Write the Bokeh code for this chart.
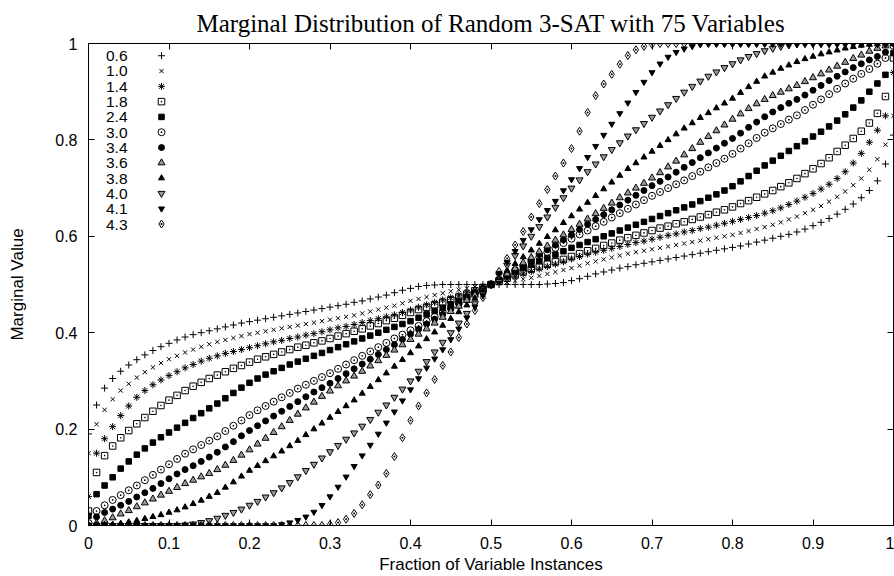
from bokeh.plotting import figure
from bokeh.models import Range1d, LinearAxis, FixedTicker, CustomJSTickFormatter
from bokeh.core.properties import value
from bokeh.embed import file_html
from bokeh.resources import INLINE

TITLE = "Marginal Distribution of Random 3-SAT with 75 Variables"
X_LABEL = "Fraction of Variable Instances"
Y_LABEL = "Marginal Value"
X_TICKS = [0, 0.1, 0.2, 0.3, 0.4, 0.5, 0.6, 0.7, 0.8, 0.9, 1]
Y_TICKS = [0, 0.2, 0.4, 0.6, 0.8, 1]

# fraction of variable instances (x positions of the sorted marginals)
FRACTION = [round(i * 0.01, 2) for i in range(101)]

S06 = [0.19, 0.25, 0.285, 0.305, 0.32, 0.333, 0.344, 0.354, 0.363, 0.371,
       0.378, 0.385, 0.391, 0.396, 0.40, 0.404, 0.408, 0.412, 0.416, 0.42,
       0.423, 0.426, 0.429, 0.432, 0.435, 0.438, 0.441, 0.444, 0.447, 0.45,
       0.453, 0.456, 0.459, 0.463, 0.466, 0.47, 0.474, 0.478, 0.483, 0.488,
       0.492, 0.496, 0.498, 0.499, 0.5, 0.5, 0.5, 0.5, 0.5, 0.5,
       0.5,
       0.5, 0.5, 0.5, 0.5, 0.5, 0.5, 0.501, 0.502, 0.504, 0.508,
       0.512, 0.517, 0.522, 0.526, 0.53, 0.534, 0.537, 0.541, 0.544, 0.547,
       0.55, 0.553, 0.556, 0.559, 0.562, 0.565, 0.568, 0.571, 0.574, 0.577,
       0.58, 0.584, 0.588, 0.592, 0.596, 0.60, 0.604, 0.609, 0.615, 0.622,
       0.629, 0.637, 0.646, 0.656, 0.667, 0.68, 0.695, 0.715, 0.75, 0.81]

S10 = [0.15, 0.21, 0.24, 0.262, 0.28, 0.294, 0.307, 0.318, 0.328, 0.337,
       0.345, 0.352, 0.359, 0.365, 0.371, 0.376, 0.381, 0.385, 0.389, 0.393,
       0.397, 0.40, 0.403, 0.406, 0.409, 0.412, 0.415, 0.418, 0.421, 0.424,
       0.427, 0.43, 0.433, 0.436, 0.44, 0.444, 0.448, 0.452, 0.456, 0.461,
       0.466, 0.47, 0.474, 0.478, 0.482, 0.486, 0.489, 0.492, 0.495, 0.498,
       0.5,
       0.502, 0.505, 0.508, 0.511, 0.514, 0.518, 0.522, 0.526, 0.53, 0.534,
       0.539, 0.544, 0.548, 0.552, 0.556, 0.56, 0.564, 0.567, 0.57, 0.573,
       0.576, 0.579, 0.582, 0.585, 0.588, 0.591, 0.594, 0.597, 0.60, 0.603,
       0.607, 0.611, 0.615, 0.619, 0.624, 0.629, 0.635, 0.641, 0.648, 0.655,
       0.663, 0.672, 0.682, 0.693, 0.706, 0.72, 0.738, 0.76, 0.79, 0.85]

S14 = [0.06, 0.15, 0.18, 0.205, 0.228, 0.248, 0.266, 0.28, 0.292, 0.302,
       0.311, 0.319, 0.327, 0.334, 0.341, 0.347, 0.352, 0.357, 0.361, 0.365,
       0.369, 0.373, 0.377, 0.381, 0.384, 0.388, 0.391, 0.395, 0.398, 0.402,
       0.406, 0.41, 0.413, 0.417, 0.421, 0.425, 0.429, 0.433, 0.437, 0.442,
       0.447, 0.453, 0.458, 0.463, 0.468, 0.473, 0.478, 0.484, 0.489, 0.495,
       0.5,
       0.505, 0.511, 0.516, 0.522, 0.527, 0.532, 0.537, 0.542, 0.547, 0.553,
       0.558, 0.563, 0.567, 0.571, 0.575, 0.579, 0.583, 0.587, 0.59, 0.594,
       0.598, 0.602, 0.605, 0.609, 0.612, 0.616, 0.619, 0.623, 0.627, 0.631,
       0.635, 0.639, 0.643, 0.648, 0.653, 0.659, 0.666, 0.673, 0.681, 0.689,
       0.698, 0.708, 0.72, 0.734, 0.752, 0.772, 0.795, 0.82, 0.85, 0.94]

S18 = [0.03, 0.11, 0.145, 0.165, 0.182, 0.197, 0.211, 0.224, 0.237, 0.249,
       0.26, 0.27, 0.28, 0.289, 0.297, 0.305, 0.312, 0.319, 0.326, 0.332,
       0.339, 0.345, 0.35, 0.355, 0.36, 0.365, 0.37, 0.374, 0.379, 0.383,
       0.388, 0.393, 0.398, 0.403, 0.408, 0.414, 0.419, 0.425, 0.43, 0.436,
       0.442, 0.448, 0.453, 0.458, 0.463, 0.468, 0.474, 0.48, 0.487, 0.493,
       0.5,
       0.507, 0.513, 0.52, 0.526, 0.532, 0.537, 0.542, 0.547, 0.552, 0.558,
       0.564, 0.57, 0.575, 0.581, 0.586, 0.592, 0.597, 0.602, 0.607, 0.612,
       0.617, 0.621, 0.626, 0.63, 0.635, 0.64, 0.645, 0.65, 0.655, 0.661,
       0.668, 0.674, 0.681, 0.688, 0.695, 0.703, 0.711, 0.72, 0.73, 0.74,
       0.751, 0.763, 0.776, 0.789, 0.803, 0.818, 0.835, 0.855, 0.89, 0.97]

S24 = [0.02, 0.065, 0.083, 0.10, 0.118, 0.133, 0.147, 0.16, 0.172, 0.183,
       0.193, 0.203, 0.213, 0.223, 0.233, 0.243, 0.253, 0.264, 0.275, 0.286,
       0.296, 0.305, 0.313, 0.32, 0.327, 0.334, 0.34, 0.346, 0.352, 0.358,
       0.364, 0.37, 0.376, 0.382, 0.388, 0.394, 0.40, 0.406, 0.412, 0.418,
       0.424, 0.431, 0.438, 0.445, 0.452, 0.459, 0.466, 0.474, 0.482, 0.491,
       0.5,
       0.509, 0.518, 0.526, 0.534, 0.541, 0.548, 0.555, 0.562, 0.569, 0.576,
       0.582, 0.588, 0.594, 0.60, 0.606, 0.612, 0.618, 0.624, 0.63, 0.636,
       0.642, 0.648, 0.654, 0.66, 0.666, 0.673, 0.68, 0.687, 0.695, 0.704,
       0.714, 0.725, 0.736, 0.747, 0.757, 0.767, 0.777, 0.787, 0.797, 0.807,
       0.817, 0.828, 0.84, 0.853, 0.867, 0.882, 0.90, 0.917, 0.935, 0.98]

S30 = [0.005, 0.03, 0.042, 0.053, 0.063, 0.073, 0.083, 0.094, 0.105, 0.116,
       0.127, 0.138, 0.149, 0.158, 0.167, 0.176, 0.185, 0.196, 0.207, 0.218,
       0.229, 0.239, 0.248, 0.257, 0.266, 0.275, 0.284, 0.292, 0.30, 0.308,
       0.316, 0.325, 0.334, 0.343, 0.352, 0.361, 0.37, 0.379, 0.388, 0.396,
       0.405, 0.414, 0.424, 0.433, 0.443, 0.452, 0.462, 0.471, 0.481, 0.49,
       0.5,
       0.51, 0.519, 0.529, 0.538, 0.548, 0.557, 0.567, 0.576, 0.586, 0.595,
       0.604, 0.612, 0.621, 0.63, 0.639, 0.648, 0.657, 0.666, 0.675, 0.684,
       0.692, 0.70, 0.708, 0.716, 0.725, 0.734, 0.743, 0.752, 0.761, 0.771,
       0.782, 0.793, 0.804, 0.815, 0.824, 0.833, 0.842, 0.851, 0.862, 0.873,
       0.884, 0.895, 0.906, 0.917, 0.927, 0.937, 0.947, 0.958, 0.97, 0.995]

S34 = [0.0, 0.018, 0.027, 0.034, 0.042, 0.05, 0.059, 0.068, 0.077, 0.087,
       0.097, 0.107, 0.116, 0.124, 0.133, 0.142, 0.152, 0.163, 0.174, 0.186,
       0.197, 0.207, 0.217, 0.227, 0.237, 0.247, 0.257, 0.267, 0.277, 0.286,
       0.295, 0.305, 0.315, 0.325, 0.335, 0.345, 0.355, 0.365, 0.375, 0.386,
       0.397, 0.407, 0.418, 0.428, 0.438, 0.449, 0.459, 0.469, 0.479, 0.49,
       0.5,
       0.51, 0.521, 0.531, 0.541, 0.551, 0.562, 0.572, 0.582, 0.593, 0.603,
       0.614, 0.625, 0.635, 0.645, 0.655, 0.665, 0.675, 0.685, 0.695, 0.705,
       0.714, 0.723, 0.733, 0.743, 0.753, 0.763, 0.773, 0.783, 0.793, 0.803,
       0.814, 0.826, 0.837, 0.848, 0.858, 0.867, 0.876, 0.884, 0.893, 0.903,
       0.913, 0.923, 0.932, 0.941, 0.95, 0.958, 0.966, 0.973, 0.982, 1.0]

S36 = [0.0, 0.005, 0.01, 0.016, 0.024, 0.031, 0.039, 0.047, 0.055, 0.063,
       0.071, 0.079, 0.087, 0.094, 0.101, 0.108, 0.116, 0.125, 0.135, 0.146,
       0.157, 0.169, 0.181, 0.193, 0.205, 0.218, 0.231, 0.244, 0.256, 0.268,
       0.279, 0.29, 0.30, 0.31, 0.32, 0.331, 0.342, 0.353, 0.364, 0.375,
       0.386, 0.397, 0.408, 0.42, 0.432, 0.444, 0.455, 0.467, 0.478, 0.489,
       0.5,
       0.511, 0.522, 0.533, 0.545, 0.556, 0.568, 0.58, 0.592, 0.603, 0.614,
       0.625, 0.636, 0.647, 0.658, 0.669, 0.68, 0.69, 0.70, 0.71, 0.721,
       0.732, 0.744, 0.756, 0.769, 0.782, 0.795, 0.807, 0.819, 0.831, 0.843,
       0.854, 0.865, 0.875, 0.884, 0.892, 0.899, 0.906, 0.913, 0.921, 0.929,
       0.937, 0.945, 0.953, 0.961, 0.969, 0.976, 0.984, 0.99, 0.995, 1.0]

S38 = [0.0, 0.0, 0.001, 0.002, 0.004, 0.007, 0.01, 0.014, 0.018, 0.022,
       0.027, 0.032, 0.038, 0.045, 0.052, 0.06, 0.068, 0.079, 0.09, 0.102,
       0.114, 0.124, 0.134, 0.144, 0.154, 0.165, 0.176, 0.188, 0.20, 0.212,
       0.224, 0.236, 0.248, 0.26, 0.274, 0.288, 0.302, 0.316, 0.33, 0.344,
       0.358, 0.372, 0.387, 0.401, 0.415, 0.429, 0.443, 0.457, 0.471, 0.486,
       0.5,
       0.514, 0.529, 0.543, 0.557, 0.571, 0.585, 0.599, 0.613, 0.628, 0.642,
       0.656, 0.67, 0.684, 0.698, 0.712, 0.726, 0.74, 0.752, 0.764, 0.776,
       0.788, 0.80, 0.812, 0.824, 0.835, 0.846, 0.856, 0.866, 0.876, 0.886,
       0.898, 0.91, 0.921, 0.932, 0.94, 0.948, 0.955, 0.962, 0.968, 0.973,
       0.978, 0.982, 0.986, 0.99, 0.993, 0.996, 0.998, 0.999, 1.0, 1.0]

S40 = [0.0, 0.0, 0.0, 0.0, 0.0, 0.0, 0.0, 0.0, 0.0, 0.0,
       0.0, 0.0, 0.001, 0.003, 0.006, 0.01, 0.015, 0.021, 0.027, 0.034,
       0.042, 0.05, 0.059, 0.068, 0.078, 0.089, 0.101, 0.114, 0.127, 0.14,
       0.153, 0.166, 0.179, 0.192, 0.206, 0.22, 0.235, 0.25, 0.266, 0.283,
       0.30, 0.32, 0.34, 0.36, 0.38, 0.40, 0.42, 0.44, 0.46, 0.48,
       0.5,
       0.52, 0.54, 0.56, 0.58, 0.60, 0.62, 0.64, 0.66, 0.68, 0.70,
       0.717, 0.734, 0.75, 0.765, 0.78, 0.794, 0.808, 0.821, 0.834, 0.847,
       0.86, 0.873, 0.886, 0.899, 0.911, 0.922, 0.932, 0.941, 0.95, 0.958,
       0.966, 0.973, 0.979, 0.985, 0.99, 0.994, 0.997, 0.999, 1.0, 1.0,
       1.0, 1.0, 1.0, 1.0, 1.0, 1.0, 1.0, 1.0, 1.0, 1.0]

S41 = [0.0, 0.0, 0.0, 0.0, 0.0, 0.0, 0.0, 0.0, 0.0, 0.0,
       0.0, 0.0, 0.0, 0.0, 0.0, 0.0, 0.0, 0.0, 0.0, 0.0,
       0.0, 0.0, 0.0, 0.0, 0.002, 0.006, 0.011, 0.018, 0.028, 0.042,
       0.06, 0.08, 0.101, 0.123, 0.145, 0.167, 0.19, 0.213, 0.236, 0.259,
       0.282, 0.305, 0.327, 0.346, 0.365, 0.386, 0.408, 0.431, 0.454, 0.477,
       0.5,
       0.523, 0.546, 0.569, 0.592, 0.614, 0.635, 0.654, 0.673, 0.695, 0.718,
       0.741, 0.764, 0.787, 0.81, 0.833, 0.855, 0.877, 0.899, 0.92, 0.94,
       0.958, 0.972, 0.982, 0.989, 0.994, 0.998, 1.0, 1.0, 1.0, 1.0,
       1.0, 1.0, 1.0, 1.0, 1.0, 1.0, 1.0, 1.0, 1.0, 1.0,
       1.0, 1.0, 1.0, 1.0, 1.0, 1.0, 1.0, 1.0, 1.0, 1.0]

S43 = [0.0, 0.0, 0.0, 0.0, 0.0, 0.0, 0.0, 0.0, 0.0, 0.0,
       0.0, 0.0, 0.0, 0.0, 0.0, 0.0, 0.0, 0.0, 0.0, 0.0,
       0.0, 0.0, 0.0, 0.0, 0.0, 0.0, 0.0, 0.0, 0.0, 0.0,
       0.002, 0.006, 0.013, 0.025, 0.043, 0.064, 0.084, 0.108, 0.143, 0.182,
       0.218, 0.248, 0.275, 0.303, 0.332, 0.36, 0.39, 0.418, 0.446, 0.473,
       0.5,
       0.527, 0.554, 0.582, 0.61, 0.64, 0.668, 0.697, 0.725, 0.752, 0.782,
       0.818, 0.857, 0.892, 0.916, 0.936, 0.957, 0.975, 0.987, 0.994, 0.998,
       1.0, 1.0, 1.0, 1.0, 1.0, 1.0, 1.0, 1.0, 1.0, 1.0,
       1.0, 1.0, 1.0, 1.0, 1.0, 1.0, 1.0, 1.0, 1.0, 1.0,
       1.0, 1.0, 1.0, 1.0, 1.0, 1.0, 1.0, 1.0, 1.0, 1.0]

SERIES_LABELS = ["0.6", "1.0", "1.4", "1.8", "2.4", "3.0",
                 "3.4", "3.6", "3.8", "4.0", "4.1", "4.3"]
SERIES_VALUES = [S06, S10, S14, S18, S24, S30, S34, S36, S38, S40, S41, S43]

# marker styles (gnuplot point types)
STYLES = {
    "0.6": dict(marker="cross", size=7, fill_color=None),
    "1.0": dict(marker="x", size=6, fill_color=None),
    "1.4": dict(marker="asterisk", size=7, fill_color=None),
    "1.8": dict(marker="square_dot", size=6.5, fill_color=None),
    "2.4": dict(marker="square", size=5.5, fill_color="black"),
    "3.0": dict(marker="circle_dot", size=7, fill_color=None),
    "3.4": dict(marker="circle", size=6, fill_color="black"),
    "3.6": dict(marker="triangle", size=7, fill_color="#9a9a9a"),
    "3.8": dict(marker="triangle", size=6, fill_color="black"),
    "4.0": dict(marker="inverted_triangle", size=7, fill_color="#9a9a9a"),
    "4.1": dict(marker="inverted_triangle", size=6, fill_color="black"),
    "4.3": dict(marker="diamond_dot", size=8, fill_color=None),
}

SANS = "Liberation Sans"
SERIF = "Liberation Serif"
TICK_SIZE = "16px"
LABEL_SIZE = "17px"

W, H = 894, 576
BL, BT, BB, BR = 88, 42, 50, 1
FW = W - BL - BR
FH = H - BT - BB

p = figure(width=W, height=H, output_backend="svg", toolbar_location=None,
           x_range=Range1d(0, 1), y_range=Range1d(0, 1),
           min_border_left=BL, min_border_right=BR, min_border_top=BT,
           min_border_bottom=BB, background_fill_color="white",
           border_fill_color="white")
p.xgrid.visible = False
p.ygrid.visible = False
p.outline_line_color = "black"
p.outline_line_width = 1

p.title.text = TITLE
p.title.align = "center"
p.title.text_font = SERIF
p.title.text_font_size = "25px"
p.title.text_font_style = "normal"
p.title.text_color = "black"
p.title.standoff = 14

fmt = "return (Math.round(tick * 10) / 10).toString();"

for ax, ticks in ((p.xaxis[0], X_TICKS), (p.yaxis[0], Y_TICKS)):
    ax.ticker = FixedTicker(ticks=ticks)
    ax.formatter = CustomJSTickFormatter(code=fmt)
    ax.major_tick_in = 6
    ax.major_tick_out = 0
    ax.minor_tick_line_color = None
    ax.axis_line_color = "black"
    ax.major_tick_line_color = "black"
    ax.major_label_text_font = SANS
    ax.major_label_text_font_size = TICK_SIZE
    ax.major_label_text_color = "black"
    ax.axis_label_text_font = SANS
    ax.axis_label_text_font_size = LABEL_SIZE
    ax.axis_label_text_font_style = "normal"
    ax.axis_label_text_color = "black"

p.xaxis[0].axis_label = X_LABEL
p.xaxis[0].major_label_standoff = 11
p.xaxis[0].axis_label_standoff = 3
p.yaxis[0].axis_label = Y_LABEL
p.yaxis[0].major_label_standoff = 11
p.yaxis[0].axis_label_standoff = 25

# mirrored tick marks on the top and right borders (no labels)
for side, ticks in (("above", X_TICKS), ("right", Y_TICKS)):
    ax = LinearAxis(ticker=FixedTicker(ticks=ticks), major_tick_in=6,
                    major_tick_out=0, minor_tick_line_color=None,
                    formatter=CustomJSTickFormatter(code="return '';"),
                    major_label_text_font_size="2px", major_label_standoff=0,
                    axis_line_color="black")
    p.add_layout(ax, side)

# data
for lab, ys in zip(SERIES_LABELS, SERIES_VALUES):
    st = STYLES[lab]
    p.scatter(FRACTION, ys, marker=st["marker"], size=st["size"],
              line_color="black", line_width=1, fill_color=st["fill_color"])

# key (gnuplot style: label then symbol)
KEY_TOP = 12.3
KEY_STEP = 15.36
KEY_TEXT_X = 39
KEY_MARK_X = 73
n = len(SERIES_LABELS)
key_offsets = [KEY_TOP + i * KEY_STEP for i in range(n)]
p.text(x=[0] * n, y=[1] * n, text=SERIES_LABELS, x_offset=KEY_TEXT_X,
       y_offset=key_offsets, text_align="right", text_baseline="middle",
       text_font=value(SANS), text_font_size="15.5px", text_color="black")
for lab, off in zip(SERIES_LABELS, key_offsets):
    st = STYLES[lab]
    p.scatter([KEY_MARK_X / FW], [1 - off / FH], marker=st["marker"],
              size=st["size"], line_color="black", line_width=1,
              fill_color=st["fill_color"])

open("out.html", "w").write(file_html(p, INLINE))
